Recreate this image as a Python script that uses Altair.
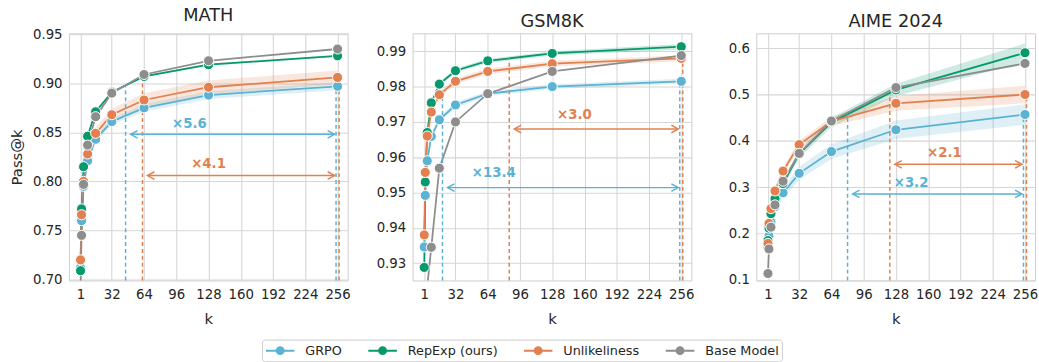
import altair as alt
import pandas as pd

FONT = "DejaVu Sans"
TEXT = "#262626"

K = [1, 2, 4, 8, 16, 32, 64, 128, 256]
X_TICKS = [1, 32, 64, 96, 128, 160, 192, 224, 256]
METHODS = ["GRPO", "RepExp (ours)", "Unlikeliness", "Base Model"]
COLORS = ["#5bb2d3", "#07996c", "#e2804f", "#8d8d8d"]

# ---- MATH ----
MATH_GRPO = [0.712, 0.760, 0.795, 0.821, 0.843, 0.861, 0.875, 0.888, 0.897]
MATH_REPEXP = [0.709, 0.772, 0.815, 0.846, 0.871, 0.891, 0.907, 0.919, 0.928]
MATH_UNLIKE = [0.720, 0.766, 0.800, 0.828, 0.849, 0.868, 0.883, 0.896, 0.906]
MATH_BASE = [0.690, 0.745, 0.797, 0.837, 0.866, 0.890, 0.909, 0.923, 0.935]
MATH_GRPO_SPREAD = [0.003, 0.003, 0.003, 0.003, 0.003, 0.003, 0.004, 0.004, 0.004]
MATH_REPEXP_SPREAD = [0.001, 0.001, 0.001, 0.001, 0.001, 0.001, 0.001, 0.001, 0.001]
MATH_UNLIKE_SPREAD = [0.004, 0.004, 0.005, 0.005, 0.006, 0.006, 0.007, 0.007, 0.007]

# ---- GSM8K ----
GSM_GRPO = [0.9346, 0.9492, 0.9590, 0.9659, 0.9706, 0.9748, 0.9780, 0.9800, 0.9815]
GSM_REPEXP = [0.9288, 0.9530, 0.9670, 0.9754, 0.9807, 0.9845, 0.9873, 0.9894, 0.9913]
GSM_UNLIKE = [0.9380, 0.9557, 0.9660, 0.9728, 0.9777, 0.9815, 0.9843, 0.9865, 0.9880]
GSM_BASE = [0.8900, 0.9100, 0.9235, 0.9345, 0.9569, 0.9700, 0.9780, 0.9843, 0.9888]
GSM_GRPO_SPREAD = [0.0008, 0.0008, 0.0008, 0.0008, 0.0008, 0.0008, 0.0007, 0.0007, 0.0007]
GSM_REPEXP_SPREAD = [0.0006, 0.0006, 0.0006, 0.0006, 0.0006, 0.0006, 0.0006, 0.0006, 0.0008]
GSM_UNLIKE_SPREAD = [0.0008, 0.0008, 0.0008, 0.0008, 0.0008, 0.0008, 0.0008, 0.0008, 0.0008]

# ---- AIME 2024 ----
AIME_GRPO = [0.170, 0.195, 0.225, 0.258, 0.288, 0.330, 0.377, 0.424, 0.457]
AIME_REPEXP = [0.185, 0.212, 0.243, 0.275, 0.308, 0.372, 0.440, 0.510, 0.590]
AIME_UNLIKE = [0.179, 0.222, 0.254, 0.292, 0.335, 0.392, 0.442, 0.481, 0.500]
AIME_BASE = [0.114, 0.167, 0.214, 0.262, 0.313, 0.373, 0.443, 0.515, 0.567]
AIME_GRPO_SPREAD = [0.010, 0.010, 0.010, 0.010, 0.012, 0.014, 0.016, 0.020, 0.022]
AIME_REPEXP_SPREAD = [0.008, 0.008, 0.008, 0.008, 0.008, 0.009, 0.010, 0.013, 0.020]
AIME_UNLIKE_SPREAD = [0.008, 0.008, 0.008, 0.008, 0.008, 0.008, 0.010, 0.016, 0.019]

# Speed-up annotations: method, factor, arrow height, label position (k, y)
MATH_NOTES = [("GRPO", 5.6, 0.848, 109, 0.8587), ("Unlikeliness", 4.1, 0.806, 128, 0.8173)]
GSM_NOTES = [("GRPO", 13.4, 0.9514, 70, 0.9555), ("Unlikeliness", 3.0, 0.9680, 150, 0.9720)]
AIME_NOTES = [("GRPO", 3.2, 0.2857, 143, 0.309), ("Unlikeliness", 2.1, 0.3494, 176, 0.373)]

# dashed marker at k=256 is nudged sideways per method so both stay visible
END_NUDGE = {"GRPO": -1.5, "Unlikeliness": 1.5}

COLOR_OF = dict(zip(METHODS, COLORS))
X_DOMAIN = [-10.5, 266]
PANEL_W, PANEL_H = 283, 251

LEFT_HEAD = "M1,-0.55L0,0L1,0.55"
RIGHT_HEAD = "M-1,-0.55L0,0L-1,0.55"
# legend glyph (stroked): a line with a dot in the middle; the dot is built
# from concentric rings so that a plain stroke renders it solid
LEGEND_SYMBOL = ("M-1,0H3.14 "
                 "M1.57,0A0.5,0.5 0 1,1 0.57,0A0.5,0.5 0 1,1 1.57,0 "
                 "M1.36,0A0.29,0.29 0 1,1 0.78,0A0.29,0.29 0 1,1 1.36,0 "
                 "M1.15,0A0.08,0.08 0 1,1 0.99,0A0.08,0.08 0 1,1 1.15,0")


def series_frame(series, spreads):
    rows = []
    for order, (m, vals) in enumerate(zip(METHODS, series)):
        sp = spreads.get(m)
        for i, (k, v) in enumerate(zip(K, vals)):
            rows.append({
                "k": k, "method": m, "order": order, "value": v,
                "lo": v - sp[i] if sp else None,
                "hi": v + sp[i] if sp else None,
                "col": COLOR_OF[m],
            })
    return pd.DataFrame(rows)


def panel(title, series, spreads, notes, y_domain, y_ticks, y_fmt, y_title):
    df = series_frame(series, spreads)
    final = {m: vals[-1] for m, vals in zip(METHODS, series)}
    ybot = y_domain[0]

    x_scale = alt.Scale(domain=X_DOMAIN, nice=False, zero=False)
    x_axis = alt.Axis(values=X_TICKS, title="k", format="d", labelOverlap=False)
    y_scale = alt.Scale(domain=y_domain, nice=False, zero=False)
    y_axis = alt.Axis(values=y_ticks, format=y_fmt, title=y_title,
                      minExtent=40, maxExtent=40)

    def X(field):
        return alt.X(field, scale=x_scale, axis=x_axis)

    def Y(field):
        return alt.Y(field, scale=y_scale, axis=y_axis)

    base = alt.Chart(df)
    bands = base.transform_filter("datum.lo != null").mark_area(
        opacity=0.2, clip=True
    ).encode(x=X("k:Q"), y=Y("lo:Q"), y2="hi:Q",
             color=alt.Color("col:N", scale=None))
    lines = base.mark_line(strokeWidth=1.8, clip=True).encode(
        x=X("k:Q"), y=Y("value:Q"),
        color=alt.Color("col:N", scale=None), detail="method:N")
    points = base.mark_point(
        filled=True, size=105, opacity=1, stroke="white", strokeWidth=1, clip=True
    ).encode(x=X("k:Q"), y=Y("value:Q"),
             fill=alt.Fill("col:N", scale=None), order=alt.Order("order:Q"))
    # empty layer that only carries the shared method legend
    legend_layer = base.transform_filter("false").mark_line(
        opacity=1, strokeWidth=2).encode(
        x=X("k:Q"), y=Y("value:Q"),
        color=alt.Color("method:N",
                        scale=alt.Scale(domain=METHODS, range=COLORS),
                        legend=alt.Legend(
                            title=None, orient="none", direction="horizontal",
                            legendX=196, legendY=311,
                            symbolType=LEGEND_SYMBOL, symbolSize=196,
                            symbolStrokeWidth=2, symbolOpacity=1,
                            labelFont=FONT, labelFontSize=13, labelColor=TEXT,
                            columnPadding=22, labelOffset=25, padding=3,
                            strokeColor="#cccccc", fillColor="white",
                            cornerRadius=3)))

    v_rows, a_rows, h_rows, t_rows = [], [], [], []
    for m, factor, ay, lk, ly in notes:
        c = COLOR_OF[m]
        kx = 256 / factor
        target = final[m]
        v_rows.append({"x": kx, "y0": ybot, "y1": target, "col": c})
        v_rows.append({"x": 256 + END_NUDGE[m], "y0": ybot, "y1": target, "col": c})
        a_rows.append({"x0": kx + 5, "x1": 253, "y": ay, "col": c})
        h_rows.append({"x": kx + 5, "y": ay, "col": c, "head": "L"})
        h_rows.append({"x": 253, "y": ay, "col": c, "head": "R"})
        t_rows.append({"x": lk, "y": ly, "col": c, "label": f"\u00d7{factor:.1f}"})

    vlines = alt.Chart(pd.DataFrame(v_rows)).mark_rule(
        strokeDash=[4, 3], strokeWidth=1.5).encode(
        x=X("x:Q"), y=Y("y0:Q"), y2="y1:Q",
        color=alt.Color("col:N", scale=None))
    arrows = alt.Chart(pd.DataFrame(a_rows)).mark_rule(strokeWidth=1.5).encode(
        x=X("x0:Q"), x2="x1:Q", y=Y("y:Q"),
        color=alt.Color("col:N", scale=None))
    hdf = pd.DataFrame(h_rows)
    heads = []
    for side, shape in (("L", LEFT_HEAD), ("R", RIGHT_HEAD)):
        heads.append(alt.Chart(hdf[hdf["head"] == side]).mark_point(
            shape=shape, filled=False, size=196, strokeWidth=1.5, opacity=1).encode(
            x=X("x:Q"), y=Y("y:Q"),
            stroke=alt.Stroke("col:N", scale=None)))
    labels = alt.Chart(pd.DataFrame(t_rows)).mark_text(
        font=FONT, fontSize=13.5, fontWeight="bold").encode(
        x=X("x:Q"), y=Y("y:Q"), text="label:N",
        color=alt.Color("col:N", scale=None))

    return alt.layer(bands, lines, vlines, arrows, *heads, labels, points,
                     legend_layer).properties(
        width=PANEL_W, height=PANEL_H,
        title=alt.TitleParams(title, fontSize=18, font=FONT, fontWeight="normal",
                              color=TEXT, offset=2))


p_math = panel("MATH", [MATH_GRPO, MATH_REPEXP, MATH_UNLIKE, MATH_BASE],
               {"GRPO": MATH_GRPO_SPREAD, "RepExp (ours)": MATH_REPEXP_SPREAD,
                "Unlikeliness": MATH_UNLIKE_SPREAD},
               MATH_NOTES, [0.699, 0.951],
               [0.70, 0.75, 0.80, 0.85, 0.90, 0.95], ".2f", "Pass@k")
p_gsm = panel("GSM8K", [GSM_GRPO, GSM_REPEXP, GSM_UNLIKE, GSM_BASE],
              {"GRPO": GSM_GRPO_SPREAD, "RepExp (ours)": GSM_REPEXP_SPREAD,
               "Unlikeliness": GSM_UNLIKE_SPREAD},
              GSM_NOTES, [0.9251, 0.9951],
              [0.93, 0.94, 0.95, 0.96, 0.97, 0.98, 0.99], ".2f", None)
p_aime = panel("AIME 2024", [AIME_GRPO, AIME_REPEXP, AIME_UNLIKE, AIME_BASE],
               {"GRPO": AIME_GRPO_SPREAD, "RepExp (ours)": AIME_REPEXP_SPREAD,
                "Unlikeliness": AIME_UNLIKE_SPREAD},
               AIME_NOTES, [0.099, 0.632],
               [0.1, 0.2, 0.3, 0.4, 0.5, 0.6], ".1f", None)

chart = alt.hconcat(p_math, p_gsm, p_aime, spacing=21).properties(
    padding={"left": 9, "top": 4, "right": 0, "bottom": 0}
).configure_view(
    stroke="#cccccc", strokeWidth=1
).configure_axis(
    grid=True, gridColor="#d6d6d6", gridWidth=1.1, domain=False, ticks=False,
    labelFont=FONT, labelFontSize=13.5, labelColor=TEXT, labelPadding=7,
    titleFont=FONT, titleFontSize=15, titleColor=TEXT, titleFontWeight="normal",
).configure_axisX(
    labelPadding=7, titlePadding=11, labelOverlap=False
).configure_axisY(
    titlePadding=5
).configure_legend(
    symbolOpacity=1, unselectedOpacity=1
)

chart.save("out.html", embed_options={"renderer": "svg", "actions": False})
